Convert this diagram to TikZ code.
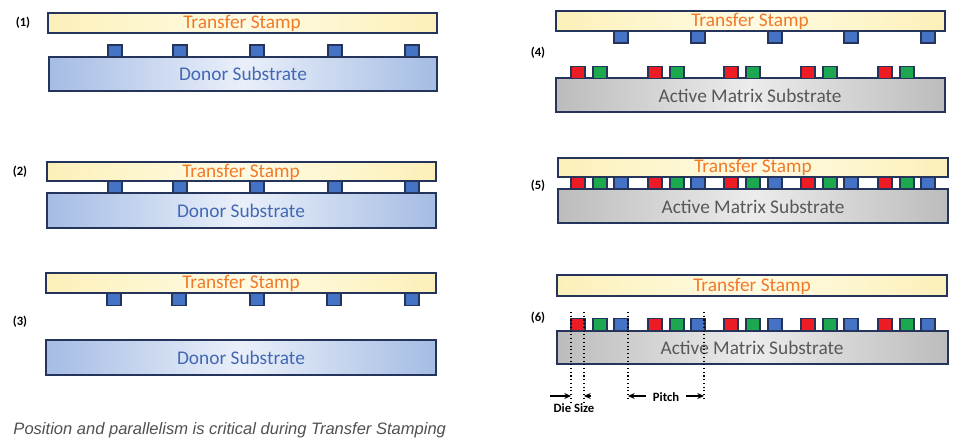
\documentclass[tikz,border=0pt]{standalone}
\usepackage{fontspec}
\setmainfont{Carlito}
\newfontfamily\capfont{Liberation Sans}
\usetikzlibrary{arrows.meta}

\tikzset{every picture/.style={line width=0.75pt}}
\tikzset{
  stamp/.style={draw={rgb,255:red,36;green,52;blue,90}, line width=1.2pt, left color={rgb,255:red,252;green,240;blue,185}, right color={rgb,255:red,252;green,240;blue,185}, middle color={rgb,255:red,255;green,251;blue,228}},
  donor/.style={draw={rgb,255:red,36;green,52;blue,90}, line width=1.2pt, left color={rgb,255:red,165;green,188;blue,228}, right color={rgb,255:red,165;green,188;blue,228}, middle color={rgb,255:red,234;green,240;blue,250}},
  matrix/.style={draw={rgb,255:red,36;green,52;blue,90}, line width=1.2pt, left color={rgb,255:red,188;green,188;blue,188}, right color={rgb,255:red,188;green,188;blue,188}, middle color={rgb,255:red,236;green,236;blue,236}},
  stamptext/.style={inner sep=0.75pt, font=\fontsize{14.5}{16}\selectfont, text={rgb,255:red,240;green,122;blue,40}},
  donortext/.style={inner sep=0.75pt, font=\fontsize{14.5}{16}\selectfont, text={rgb,255:red,66;green,104;blue,180}},
  matrixtext/.style={inner sep=0.75pt, font=\fontsize{14.5}{16}\selectfont, text={rgb,255:red,88;green,88;blue,88}},
  diebase/.style={draw={rgb,255:red,36;green,52;blue,90}, line width=0.8pt, inner sep=0pt, minimum width=10.5pt, minimum height=9pt},
  bdie/.style={diebase, fill={rgb,255:red,68;green,114;blue,196}},
  rdie/.style={diebase, fill={rgb,255:red,237;green,28;blue,36}},
  gdie/.style={diebase, fill={rgb,255:red,28;green,168;blue,78}},
  steplabel/.style={inner sep=0.75pt, font=\fontsize{9.5}{11}\selectfont\bfseries},
  dimline/.style={dotted, line width=0.8pt},
  dimarrow/.style={-{Stealth[length=5pt,width=4.5pt]}, line width=1.1pt}
}

\begin{document}
\begin{tikzpicture}[x=0.75pt,y=0.75pt,yscale=-1,xscale=1]
\useasboundingbox (0,0) rectangle (962,442);

%Step (1)
\draw [stamp] (48,13) rectangle (437,33) ;
\draw [donor] (49,57) rectangle (437,91) ;
\node [bdie] (a1) at (115,51) {} ;
\node [bdie] (a2) at (180,51) {} ;
\node [bdie] (a3) at (257,51) {} ;
\node [bdie] (a4) at (335,51) {} ;
\node [bdie] (a5) at (412,51) {} ;
\node [stamptext] (st1) at (242,23) {Transfer Stamp};
\node [donortext] (ds1) at (243,74) {Donor Substrate};
\node [steplabel] (n1) at (23,23) {(1)};

%Step (2)
\draw [stamp] (47,162) rectangle (436,181) ;
\draw [donor] (47,193) rectangle (436,228) ;
\node [bdie] (b1) at (115,187) {} ;
\node [bdie] (b2) at (180,187) {} ;
\node [bdie] (b3) at (257,187) {} ;
\node [bdie] (b4) at (335,187) {} ;
\node [bdie] (b5) at (412,187) {} ;
\node [stamptext] (st2) at (241,172) {Transfer Stamp};
\node [donortext] (ds2) at (241,211) {Donor Substrate};
\node [steplabel] (n2) at (20,172) {(2)};

%Step (3)
\draw [stamp] (46,273) rectangle (436,293) ;
\draw [donor] (46,340) rectangle (436,375) ;
\node [bdie] (c1) at (114,299.5) {} ;
\node [bdie] (c2) at (179,299.5) {} ;
\node [bdie] (c3) at (257,299.5) {} ;
\node [bdie] (c4) at (334,299.5) {} ;
\node [bdie] (c5) at (412,299.5) {} ;
\node [stamptext] (st3) at (241,283) {Transfer Stamp};
\node [donortext] (ds3) at (241,358) {Donor Substrate};
\node [steplabel] (n3) at (20,322) {(3)};

%Step (4)
\draw [stamp] (556,11) rectangle (945,31) ;
\draw [matrix] (556,78) rectangle (945,112) ;
\node [bdie] (d1) at (621,37) {} ;
\node [bdie] (d2) at (698,37) {} ;
\node [bdie] (d3) at (775,37) {} ;
\node [bdie] (d4) at (851,37) {} ;
\node [bdie] (d5) at (928,37) {} ;
\node [rdie] (dr1) at (578,72.5) {} ;
\node [gdie] (dg1) at (600,72.5) {} ;
\node [rdie] (dr2) at (655,72.5) {} ;
\node [gdie] (dg2) at (677,72.5) {} ;
\node [rdie] (dr3) at (731,72.5) {} ;
\node [gdie] (dg3) at (753,72.5) {} ;
\node [rdie] (dr4) at (808,72.5) {} ;
\node [gdie] (dg4) at (830,72.5) {} ;
\node [rdie] (dr5) at (885,72.5) {} ;
\node [gdie] (dg5) at (907,72.5) {} ;
\node [stamptext] (st4) at (750,21) {Transfer Stamp};
\node [matrixtext] (ms4) at (750,96) {Active Matrix Substrate};
\node [steplabel] (n4) at (538,53) {(4)};

%Step (5)
\draw [stamp] (558,158) rectangle (948,177) ;
\draw [matrix] (558,189) rectangle (948,223) ;
\node [rdie] (er1) at (578,183) {} ;
\node [gdie] (eg1) at (600,183) {} ;
\node [bdie] (eb1) at (621,183) {} ;
\node [rdie] (er2) at (655,183) {} ;
\node [gdie] (eg2) at (677,183) {} ;
\node [bdie] (eb2) at (698,183) {} ;
\node [rdie] (er3) at (731,183) {} ;
\node [gdie] (eg3) at (753,183) {} ;
\node [bdie] (eb3) at (775,183) {} ;
\node [rdie] (er4) at (808,183) {} ;
\node [gdie] (eg4) at (830,183) {} ;
\node [bdie] (eb4) at (851,183) {} ;
\node [rdie] (er5) at (885,183) {} ;
\node [gdie] (eg5) at (907,183) {} ;
\node [bdie] (eb5) at (928,183) {} ;
\node [stamptext] (st5) at (753,167) {Transfer Stamp};
\node [matrixtext] (ms5) at (753,207) {Active Matrix Substrate};
\node [steplabel] (n5) at (538,186) {(5)};

%Step (6)
\draw [stamp] (557,275) rectangle (947,296) ;
\draw [matrix] (557,331) rectangle (948,364) ;
\node [rdie] (fr1) at (578,324.5) {} ;
\node [gdie] (fg1) at (600,324.5) {} ;
\node [bdie] (fb1) at (621,324.5) {} ;
\node [rdie] (fr2) at (655,324.5) {} ;
\node [gdie] (fg2) at (677,324.5) {} ;
\node [bdie] (fb2) at (698,324.5) {} ;
\node [rdie] (fr3) at (731,324.5) {} ;
\node [gdie] (fg3) at (753,324.5) {} ;
\node [bdie] (fb3) at (775,324.5) {} ;
\node [rdie] (fr4) at (808,324.5) {} ;
\node [gdie] (fg4) at (830,324.5) {} ;
\node [bdie] (fb4) at (851,324.5) {} ;
\node [rdie] (fr5) at (885,324.5) {} ;
\node [gdie] (fg5) at (907,324.5) {} ;
\node [bdie] (fb5) at (928,324.5) {} ;
\node [stamptext] (st6) at (752,286) {Transfer Stamp};
\node [matrixtext] (ms6) at (752,348) {Active Matrix Substrate};
\node [steplabel] (n6) at (538,318) {(6)};

%Dimension lines
\coordinate (dsl) at (571,312) ;
\coordinate (dsr) at (584,312) ;
\coordinate (pl) at (628,312) ;
\coordinate (pr) at (704,312) ;
\draw [dimline] (dsl) -- ++(0,91) ;
\draw [dimline] (dsr) -- ++(0,91) ;
\draw [dimline] (pl) -- ++(0,89) ;
\draw [dimline] (pr) -- ++(0,89) ;
\coordinate (dsa) at (550,396) ;
\coordinate (dsb) at (591,396) ;
\coordinate (pa) at (646,396) ;
\coordinate (pb) at (686,396) ;
\draw [dimarrow] (dsa) -- (dsa -| dsl) ;
\draw [dimarrow] (dsb) -- (dsb -| dsr) ;
\draw [dimarrow] (pa) -- (pa -| pl) ;
\draw [dimarrow] (pb) -- (pb -| pr) ;
\node [steplabel] (dsz) at (574,408) {Die Size};
\node [steplabel] (pt) at (666,397) {Pitch};

% Caption
\node [anchor=west, inner sep=0pt, font=\capfont\itshape\fontsize{12.4}{14}\selectfont, text={rgb,255:red,80;green,80;blue,80}] (cap) at (13,430) {Position and parallelism is critical during Transfer Stamping};

\end{tikzpicture}
\end{document}
